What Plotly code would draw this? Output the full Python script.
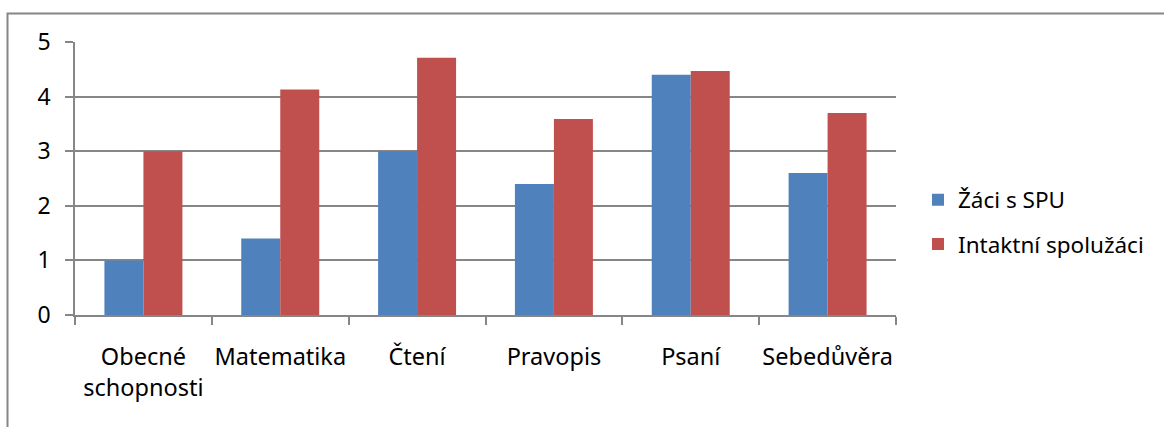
import plotly.graph_objects as go

categories = ["Obecné<br>schopnosti", "Matematika", "Čtení", "Pravopis", "Psaní", "Sebedůvěra"]
series_names = ["Žáci s SPU", "Intaktní spolužáci"]
spu_values = [1.0, 1.4, 3.0, 2.4, 4.4, 2.6]
intact_values = [3.0, 4.13, 4.71, 3.59, 4.47, 3.7]
y_ticks = [0, 1, 2, 3, 4, 5]

W, H = 1164, 427
L, R, T, B = 75, 896, 42, 315
FONT = "Noto Sans"
FS = 23

fig = go.Figure()
fig.add_trace(go.Bar(x=categories, y=spu_values, name=series_names[0],
                     marker=dict(color="#4F81BD", line=dict(width=0)), legendgroup="a"))
fig.add_trace(go.Bar(x=categories, y=intact_values, name=series_names[1],
                     marker=dict(color="#C0504D", line=dict(width=0)), legendgroup="b"))

def px_x(px):
    return (px - L) / (R - L)

def px_y(py):
    return (B - py) / (B - T)

fig.update_layout(
    width=W, height=H,
    margin=dict(l=L, r=W - R, t=T, b=H - B, pad=0, autoexpand=False),
    paper_bgcolor="white", plot_bgcolor="white",
    font=dict(family=FONT, size=FS, color="black"),
    barmode="group", bargap=0.43, bargroupgap=0,
    showlegend=True,
    legend=dict(x=px_x(918), xanchor="left", y=px_y(222), yanchor="middle",
                font=dict(family=FONT, size=22.5, color="black"),
                tracegroupgap=12, traceorder="grouped", bgcolor="rgba(0,0,0,0)"),
    xaxis=dict(showgrid=False, showline=True, linecolor="#868686", linewidth=1.5,
               ticks="outside", ticklen=8, tickcolor="#868686", tickwidth=1.5,
               tickson="boundaries", ticklabelstandoff=20, tickangle=0, automargin=False,
               tickfont=dict(family=FONT, size=23.5, color="black"), fixedrange=True),
    yaxis=dict(range=[0, 5], tickvals=y_ticks, showgrid=True, gridcolor="#868686", gridwidth=1.5,
               showline=True, linecolor="#868686", linewidth=1.5,
               ticks="outside", ticklen=8, tickcolor="#868686", tickwidth=1.5,
               ticklabelstandoff=10, zeroline=False, automargin=False,
               tickfont=dict(family=FONT, size=FS, color="black"), fixedrange=True),
    shapes=[dict(type="rect", xref="paper", yref="paper",
                 x0=px_x(7.5), x1=px_x(1180), y0=px_y(445), y1=px_y(13.5),
                 line=dict(color="#868686", width=2), fillcolor="rgba(0,0,0,0)", layer="below")],
)

fig.write_html("out.html")
